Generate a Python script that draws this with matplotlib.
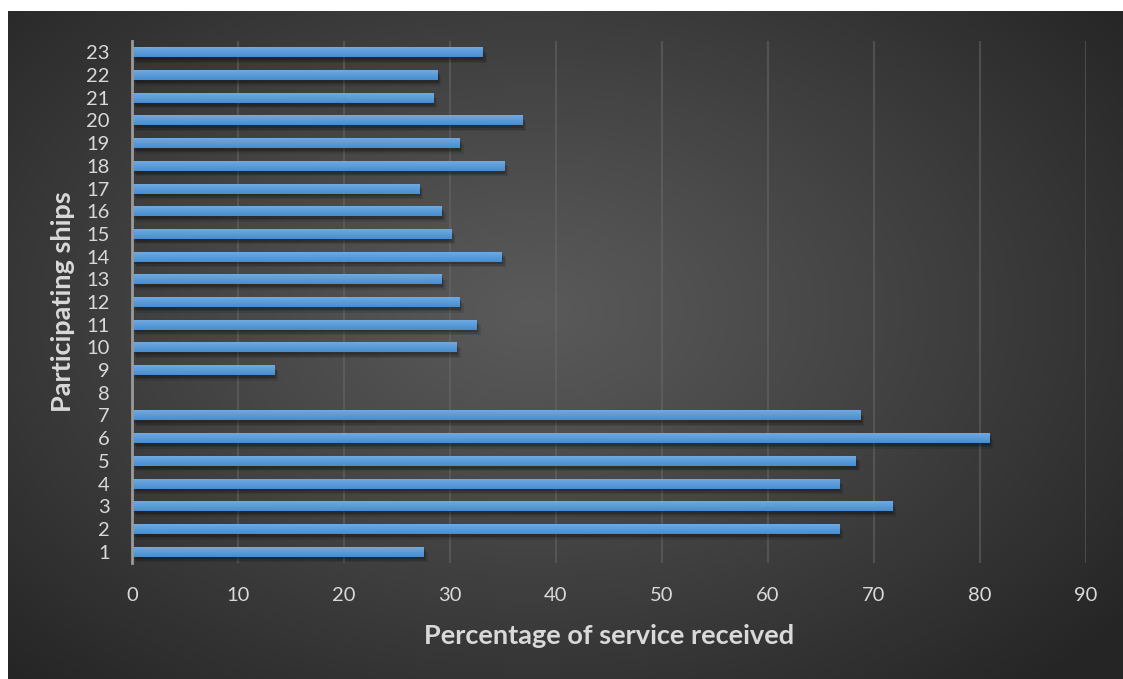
import numpy as np
import matplotlib
matplotlib.use("Agg")
import matplotlib.pyplot as plt
import matplotlib.patheffects as pe

ships = list(range(1, 24))
service = [27.5, 66.7, 71.7, 66.7, 68.3, 80.9, 68.7, 0, 13.4, 30.6,
           32.5, 30.9, 29.2, 34.9, 30.1, 29.2, 27.1, 35.1, 30.9, 36.8,
           28.4, 28.8, 33.1]
xticks = list(range(0, 100, 10))
xlabel = "Percentage of service received"
ylabel = "Participating ships"

W, H = 1123, 679
fig = plt.figure(figsize=(W / 100, H / 100), dpi=100)
fig.patch.set_facecolor("white")

# background panel with radial gradient
bg = fig.add_axes([8 / W, 0, (W - 8) / W, (H - 11) / H])
bg.set_axis_off()
nx, ny = 600, 360
xx, yy = np.meshgrid(np.linspace(0, 1, nx), np.linspace(0, 1, ny))
cx, cy = 0.47, 0.45
r = np.sqrt(((xx - cx) * 1.0) ** 2 + ((yy - cy) * 0.9) ** 2)
r = np.clip(r / 0.68, 0, 1)
light, dark = 0x5a / 255, 0x25 / 255
val = light + (dark - light) * r ** 1.1
img = np.dstack([val, val, val])
bg.imshow(img, extent=[0, 1, 0, 1], origin="upper", aspect="auto")
bg.set_xlim(0, 1)
bg.set_ylim(0, 1)

ax = fig.add_axes([132 / W, 116 / H, 954 / W, 522 / H])
ax.patch.set_alpha(0)
shadow = [pe.SimplePatchShadow(offset=(3, -4), shadow_rgbFace="black", alpha=0.10),
          pe.SimplePatchShadow(offset=(2, -3), shadow_rgbFace="black", alpha=0.13),
          pe.SimplePatchShadow(offset=(1, -2), shadow_rgbFace="black", alpha=0.18),
          pe.Normal()]
bars = ax.barh(ships, service, height=0.44, color="#5b9bd5", zorder=3,
               path_effects=shadow)

# vertical gradient inside bars (lighter on top)
grad = np.linspace(0, 1, 50).reshape(-1, 1)
top = np.array([0x70, 0xaa, 0xe2]) / 255
bot = np.array([0x46, 0x8d, 0xd0]) / 255
gimg = top[None, None, :] * grad[:, :, None] + bot[None, None, :] * (1 - grad[:, :, None])
for b in bars:
    if b.get_width() <= 0:
        continue
    x0, y0 = b.get_x(), b.get_y()
    im = ax.imshow(gimg, extent=[x0, x0 + b.get_width(), y0, y0 + b.get_height()],
                   origin="lower", aspect="auto", zorder=4)
    im.set_clip_path(b)

ax.set_xlim(0, 90)
ax.set_ylim(0.5, 23.5)
ax.set_xticks(xticks)
ax.set_yticks(ships)
ax.set_yticklabels([str(s) for s in ships])
ax.grid(axis="x", color="#6a6a6a", linewidth=1.5, alpha=0.5, zorder=1)
ax.set_axisbelow(True)
for s in ["top", "right", "bottom"]:
    ax.spines[s].set_visible(False)
ax.spines["left"].set_color("#9a9a9a")
ax.spines["left"].set_linewidth(2)
ax.spines["left"].set_zorder(5)
ax.tick_params(axis="both", length=0, labelsize=14.5, labelcolor="#d9d9d9")
ax.tick_params(axis="y", pad=16)
ax.tick_params(axis="x", pad=17)
for lab in ax.get_xticklabels() + ax.get_yticklabels():
    lab.set_fontfamily("Lato")

ax.set_xlabel(xlabel, fontsize=19.5, fontweight="bold", color="#d9d9d9",
              fontfamily="Lato", labelpad=15)
ax.set_ylabel(ylabel, fontsize=19.5, fontweight="bold", color="#d9d9d9",
              fontfamily="Lato", labelpad=8)

fig.savefig("out.png", dpi=100)
